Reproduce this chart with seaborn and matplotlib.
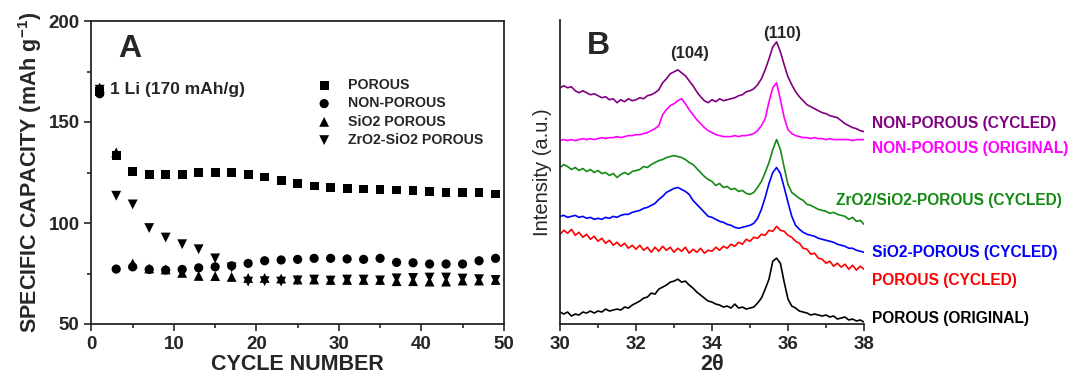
import numpy as np
import pandas as pd
import seaborn as sns
import matplotlib.pyplot as plt
from matplotlib.ticker import MultipleLocator

sns.set_style("ticks")
plt.rcParams['font.family'] = ['Liberation Sans', 'DejaVu Sans']
plt.rcParams['mathtext.default'] = 'regular'

# panel A: cycling data
cycles = list(range(1, 50, 2))
porous = [165, 133.5, 125.4, 124.2, 124, 124, 124.9, 125.1, 124.9, 124, 122.8, 121.2, 119.7,
          118.3, 117.6, 117.1, 116.8, 116.6, 116.3, 116, 115.5, 115.2, 115, 115, 114.4]
non_porous = [164, 77.2, 78.3, 77, 76.7, 77, 77.8, 78.3, 78.8, 80, 81.3, 81.7, 82,
              82.5, 82.5, 82.2, 82, 82.5, 80.5, 80.3, 79.7, 79.7, 79.7, 81.3, 82.5]
sio2_porous = [167, 135, 80, 77.5, 77, 75.3, 73.8, 73.7, 73.3, 72.8, 72.8, 72.5, 72,
               72, 71.8, 71.8, 71.8, 71.8, 71.2, 71.2, 71, 71, 71.5, 71.5, 71.8]
zro2_sio2_porous = [166, 113.5, 109.2, 97.5, 92.8, 89.5, 87, 82.5, 78, 71, 71.2, 71, 71.6,
                    72, 71.5, 72, 72, 71.6, 72.6, 72.8, 73, 73, 72.5, 72.2, 71.8]

# panel B: XRD patterns, 30-38 deg in 0.1 steps
two_theta = np.round(np.arange(30, 38.01, 0.1), 1)
np_cycled = [242, 244, 242, 243, 239, 237, 239, 237, 235, 236,
             234, 232, 233, 230, 231, 227, 230, 228, 231, 229,
             230, 232, 231, 234, 235, 237, 240, 247, 251, 256,
             258, 260, 257, 254, 249, 244, 238, 233, 229, 227,
             230, 228, 231, 229, 230, 231, 232, 234, 235, 238,
             239, 241, 245, 251, 260, 271, 283, 288, 278, 265,
             253, 245, 238, 233, 229, 225, 223, 221, 219, 217,
             216, 214, 213, 212, 209, 206, 204, 202, 201, 199, 198]
np_original = [189, 190, 189, 190, 189, 190, 191, 190, 191, 190,
               191, 192, 191, 192, 192, 193, 192, 193, 194, 194,
               195, 195, 196, 197, 199, 201, 204, 215, 220, 224,
               226, 229, 231, 226, 220, 215, 210, 206, 202, 199,
               197, 195, 194, 193, 193, 193, 194, 193, 194, 194,
               195, 196, 199, 204, 211, 228, 242, 247, 230, 212,
               200, 196, 194, 193, 192, 192, 191, 192, 191, 191,
               190, 191, 190, 190, 190, 190, 190, 189, 190, 190, 190]
zro2_cycled = [162, 165, 163, 160, 162, 159, 161, 158, 160, 157,
               159, 156, 157, 154, 156, 152, 155, 157, 155, 158,
               159, 160, 163, 162, 165, 167, 169, 170, 172, 173,
               174, 173, 172, 170, 167, 165, 161, 157, 153, 150,
               148, 144, 146, 142, 143, 140, 141, 138, 139, 136,
               135, 137, 142, 148, 157, 167, 180, 190, 180, 162,
               145, 137, 134, 131, 129, 125, 124, 122, 120, 119,
               118, 116, 117, 115, 114, 113, 110, 112, 108, 109, 105]
sio2_cycled = [113, 114, 112, 113, 114, 112, 113, 111, 112, 110,
               111, 110, 112, 111, 113, 112, 114, 115, 115, 117,
               118, 119, 121, 122, 124, 126, 130, 133, 137, 139,
               141, 142, 140, 138, 135, 129, 125, 121, 117, 113,
               112, 110, 108, 107, 105, 104, 102, 101, 102, 103,
               104, 106, 111, 120, 132, 146, 157, 162, 156, 142,
               127, 113, 104, 100, 97, 95, 94, 93, 91, 90,
               89, 88, 87, 85, 84, 83, 81, 81, 79, 78, 77]
porous_cycled = [95, 99, 96, 100, 94, 97, 92, 95, 90, 93,
                 88, 91, 86, 89, 84, 87, 83, 86, 81, 84,
                 80, 84, 79, 82, 77, 82, 78, 83, 79, 82,
                 77, 81, 78, 82, 76, 80, 77, 81, 76, 79,
                 78, 82, 79, 83, 81, 85, 83, 87, 85, 90,
                 88, 92, 91, 95, 94, 99, 98, 103, 99, 98,
                 94, 92, 88, 86, 81, 80, 75, 76, 71, 70,
                 66, 68, 63, 66, 62, 65, 60, 64, 59, 63, 60]
porous_original = [17, 15, 17, 13, 15, 14, 17, 16, 18, 16,
                   18, 17, 20, 18, 19, 20, 19, 22, 21, 24,
                   26, 28, 31, 32, 36, 35, 40, 42, 44, 47,
                   48, 50, 47, 48, 44, 41, 37, 34, 31, 28,
                   27, 25, 24, 22, 23, 21, 25, 21, 22, 20,
                   21, 22, 26, 31, 40, 50, 68, 71, 66, 47,
                   30, 23, 21, 18, 17, 16, 14, 15, 14, 13,
                   14, 12, 13, 10, 11, 12, 9, 10, 8, 9, 7]

fig = plt.figure(figsize=(10.71, 3.75), dpi=100)
axA = fig.add_axes([0.0854, 0.136, 0.385, 0.808])
axB = fig.add_axes([0.5229, 0.136, 0.2838, 0.8107])

# ---- panel A
series = [("POROUS", porous, "s", 40),
          ("NON-POROUS", non_porous, "o", 44),
          ("SiO2 POROUS", sio2_porous, "^", 50),
          ("ZrO2-SiO2 POROUS", zro2_sio2_porous, "v", 50)]
for name, vals, mk, sz in series:
    sns.scatterplot(x=cycles, y=vals, marker=mk, s=sz, color="black",
                    edgecolor="none", label=name, ax=axA)

axA.set_xlim(0, 50)
axA.set_ylim(50, 200)
axA.xaxis.set_major_locator(MultipleLocator(10))
axA.xaxis.set_minor_locator(MultipleLocator(5))
axA.yaxis.set_major_locator(MultipleLocator(50))
axA.yaxis.set_minor_locator(MultipleLocator(25))
axA.tick_params(which="both", direction="out", width=1.2)
axA.tick_params(which="major", length=5, labelsize=13.5)
axA.tick_params(which="minor", length=3)
for lab in axA.get_xticklabels() + axA.get_yticklabels():
    lab.set_fontweight("bold")
for sp in axA.spines.values():
    sp.set_linewidth(1.3)
axA.set_xlabel("CYCLE NUMBER", fontsize=15.5, fontweight="bold", labelpad=1)
axA.set_ylabel("SPECIFIC CAPACITY (mAh g$^{-1}$)", fontsize=15.5, fontweight="bold", labelpad=3)
axA.text(4.6, 182, "A", fontsize=23, fontweight="bold", ha="center", va="baseline")
axA.text(2.2, 166, "1 Li (170 mAh/g)", fontsize=12.5, fontweight="bold", va="center")
leg = axA.legend(loc="upper left", bbox_to_anchor=(0.53, 0.835), frameon=False,
                 handlelength=1.0, handletextpad=1.2, labelspacing=0.3, borderpad=0,
                 prop={"weight": "bold", "size": 10.2})

# ---- panel B
curves = [(porous_original, "black", "POROUS (ORIGINAL)", 318),
          (porous_cycled, "#ff0000", "POROUS (CYCLED)", 281),
          (sio2_cycled, "#0000ff", "SiO2-POROUS (CYCLED)", 253),
          (zro2_cycled, "#138a13", "ZrO2/SiO2-POROUS (CYCLED)", 200),
          (np_original, "#ff00ff", "NON-POROUS (ORIGINAL)", 148),
          (np_cycled, "#800080", "NON-POROUS (CYCLED)", 123)]
for vals, col, name, ypix in curves:
    sns.lineplot(x=two_theta, y=vals, color=col, linewidth=1.2, ax=axB)

axB.set_xlim(30, 38)
axB.set_ylim(5, 310)
axB.set_yticks([])
axB.xaxis.set_major_locator(MultipleLocator(2))
axB.xaxis.set_minor_locator(MultipleLocator(1))
axB.tick_params(which="both", direction="out", width=1.2)
axB.tick_params(which="major", length=5, labelsize=13.5)
axB.tick_params(which="minor", length=3)
for lab in axB.get_xticklabels():
    lab.set_fontweight("bold")
sns.despine(ax=axB)
for sp in axB.spines.values():
    sp.set_linewidth(1.3)
axB.set_xlabel("2θ", fontsize=15.5, fontweight="bold", labelpad=1)
axB.set_ylabel("Intensity (a.u.)", fontsize=14.5, fontweight="medium", labelpad=6)
axB.text(31.0, 276, "B", fontsize=23, fontweight="bold", ha="center", va="baseline")
axB.text(33.4, 276, "(104)", fontsize=12, fontweight="bold", ha="center", va="center")
axB.text(35.85, 296, "(110)", fontsize=12, fontweight="bold", ha="center", va="center")

# curve labels sit to the right of the axes, placed in pixel rows
for vals, col, name, ypix in curves:
    xf = 836 / 1071 if name.startswith("ZrO2") else 872 / 1071
    fig.text(xf, 1 - ypix / 375, name, color=col, fontsize=11.2, fontweight="bold",
             va="center", ha="left")

fig.savefig("out.png", dpi=100)
